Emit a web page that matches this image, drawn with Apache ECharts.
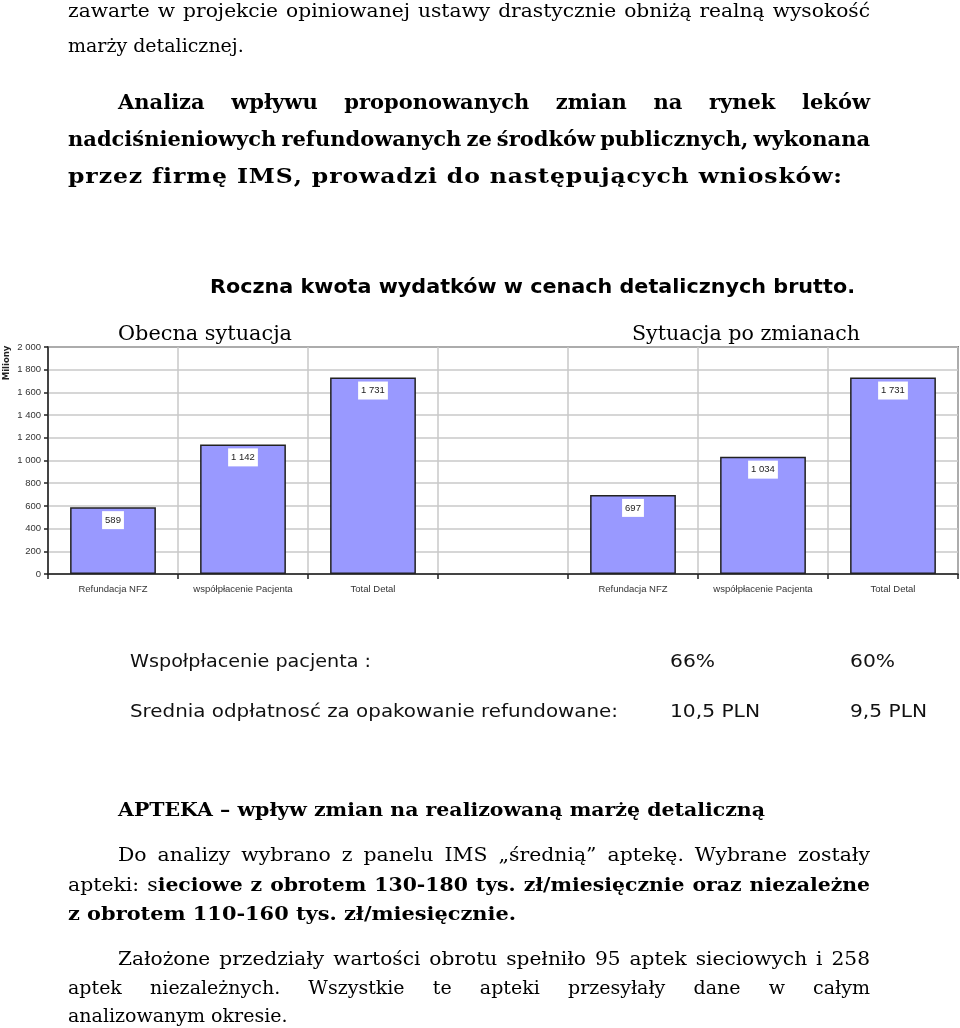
<!DOCTYPE html>
<html>
<head>
<meta charset="utf-8">
<script src="https://cdn.jsdelivr.net/npm/echarts@6/dist/echarts.min.js"></script>
<style>
html,body{margin:0;padding:0;background:#fff;}
#chart{width:960px;height:1028px;}
</style>
</head>
<body>
<div id="chart"></div>
<script>
// ---------- DATA ----------
const categories = ['Refundacja NFZ', 'współpłacenie Pacjenta', 'Total Detal', '', 'Refundacja NFZ', 'współpłacenie Pacjenta', 'Total Detal'];
const currentValues = [589, 1142, 1731];   // Obecna sytuacja
const afterValues = [697, 1034, 1731];     // Sytuacja po zmianach
const yTickLabels = ['0', '200', '400', '600', '800', '1 000', '1 200', '1 400', '1 600', '1 800', '2 000'];
const chartTitle = 'Roczna kwota wydatków w cenach detalicznych brutto.';
const groupTitles = ['Obecna sytuacja', 'Sytuacja po zmianach'];
const tableRows = [
  ['Wspołpłacenie pacjenta :', '66%', '60%'],
  ['Srednia odpłatnosć za opakowanie refundowane:', '10,5 PLN', '9,5 PLN']
];

// ---------- helpers ----------
const SERIF = 'DejaVu Serif';
const SANS = 'DejaVu Sans';
const mctx = document.createElement('canvas').getContext('2d');
function measure(t, size, family, weight) {
  mctx.font = (weight || 'normal') + ' ' + size + 'px "' + family + '"';
  return mctx.measureText(t).width;
}
function fmt(n) { return String(n).replace(/\B(?=(\d{3})+(?!\d))/g, ' '); }

const elements = [];
function textEl(t, x, y, size, family, weight, extra) {
  const el = Object.assign({
    type: 'text', x: x, y: y, silent: true,
    style: {
      text: t, fontSize: size, fontFamily: family, fontWeight: weight || 'normal',
      fill: '#000', textAlign: 'left', textVerticalAlign: 'middle', align: 'left', verticalAlign: 'middle'
    }
  }, extra || {});
  elements.push(el);
  return el;
}
// fit a single run into [x0,x1] by horizontal scaling
function fitText(t, x0, x1, y, size, family, weight, color) {
  const w = measure(t, size, family, weight);
  const el = textEl(t, x0, y, size, family, weight);
  if (color) el.style.fill = color;
  if (x1) el.scaleX = (x1 - x0) / w;
  return el;
}
// letter-spaced line spanning [x0,x1], glyphs scaled by sc
function spaced(t, x0, x1, y, size, family, weight, sc) {
  sc = sc || 1;
  const chars = Array.from(t);
  const total = chars.reduce((s, c) => s + measure(c, size, family, weight) * sc, 0);
  const extra = (x1 - x0 - total) / (chars.length - 1);
  let x = x0;
  chars.forEach(c => {
    if (c !== ' ') {
      const el = textEl(c, x, y, size, family, weight);
      if (sc !== 1) el.scaleX = sc;
    }
    x += measure(c, size, family, weight) * sc + extra;
  });
}
// words: array of words; each word = array of runs {t, b}
// gap: if given, words are scaled horizontally so that gaps equal `gap`; otherwise gaps stretch
function justify(words, x0, x1, y, size, family, gap) {
  const ww = words.map(w => w.reduce((s, r) => s + measure(r.t, size, family, r.b ? 'bold' : 'normal'), 0));
  const total = ww.reduce((a, b) => a + b, 0);
  let sc = 1, g;
  if (gap !== undefined) {
    sc = (x1 - x0 - gap * (words.length - 1)) / total;
    g = gap;
  } else {
    g = (x1 - x0 - total) / (words.length - 1);
  }
  let x = x0;
  words.forEach((w, i) => {
    let rx = x;
    w.forEach(r => {
      const wt = r.b ? 'bold' : 'normal';
      const el = textEl(r.t, rx, y, size, family, wt);
      if (sc !== 1) el.scaleX = sc;
      rx += measure(r.t, size, family, wt) * sc;
    });
    x += ww[i] * sc + g;
  });
}
function words(str, bold) { return str.split(' ').map(w => [{ t: w, b: !!bold }]); }

// ---------- body text ----------
justify(words('zawarte w projekcie opiniowanej ustawy drastycznie obniżą realną wysokość'), 68, 870, 12, 19, SERIF, 8);
textEl('marży detalicznej.', 68, 47, 19, SERIF);
justify(words('Analiza wpływu proponowanych zmian na rynek leków', true), 118, 870, 104, 21, SERIF);
justify(words('nadciśnieniowych refundowanych ze środków publicznych, wykonana', true), 68, 870, 141, 21, SERIF);
spaced('przez firmę IMS, prowadzi do następujących wniosków:', 68, 842, 178, 21, SERIF, 'bold', 1.12);

// chart title and group titles
fitText(chartTitle, 210, 855, 288, 19, SANS, 'bold');
fitText(groupTitles[0], 118, 292, 335, 20, SERIF);
fitText(groupTitles[1], 632, 860, 335, 20, SERIF);
elements.push({
  type: 'text', x: 7, y: 363, rotation: Math.PI / 2, silent: true,
  style: { text: 'Miliony', fontSize: 8.5, fontFamily: SANS, fontWeight: 'bold', fill: '#222',
    textAlign: 'center', align: 'center', textVerticalAlign: 'middle', verticalAlign: 'middle' }
});

// table below chart
const tableX = [130, 670, 850];
const tableY = [663, 713];
const tableRight = [[371, 715, 895], [618, 760, 927]];
tableRows.forEach((row, ri) => {
  row.forEach((cell, ci) => fitText(cell, tableX[ci], tableRight[ri][ci], tableY[ri], 17, SANS, 'normal', '#111'));
});

// bottom text
fitText('APTEKA – wpływ zmian na realizowaną marżę detaliczną', 118, 765, 811, 19, SERIF, 'bold');
justify(words('Do analizy wybrano z panelu IMS „średnią” aptekę. Wybrane zostały'), 118, 870, 856, 19, SERIF, 11);
justify([[{ t: 'apteki:', b: false }], [{ t: 's', b: false }, { t: 'ieciowe', b: true }]]
  .concat(words('z obrotem 130-180 tys. zł/miesięcznie oraz niezależne', true)), 68, 870, 886, 19, SERIF, 8);
fitText('z obrotem 110-160 tys. zł/miesięcznie.', 68, 516, 915, 19, SERIF, 'bold');
justify(words('Założone przedziały wartości obrotu spełniło 95 aptek sieciowych i 258'), 118, 870, 960, 19, SERIF, 9);
justify(words('aptek niezależnych. Wszystkie te apteki przesyłały dane w całym'), 68, 870, 989, 19, SERIF);
textEl('analizowanym okresie.', 68, 1017, 19, SERIF);

// ---------- chart ----------
const barData = currentValues.concat(['-'], afterValues);

const chart = echarts.init(document.getElementById('chart'), null, { renderer: 'canvas' });
chart.setOption({
  backgroundColor: '#fff',
  animation: false,
  grid: { left: 48, right: 2, top: 347, bottom: 454, show: true, borderColor: '#222', borderWidth: 1.5, backgroundColor: 'transparent' },
  xAxis: {
    type: 'category', data: categories, boundaryGap: true,
    axisLine: { lineStyle: { color: '#222', width: 1.5 } },
    axisTick: { show: true, interval: 0, length: 5, lineStyle: { color: '#222', width: 1.5 } },
    axisLabel: { interval: 0, fontSize: 9.5, fontFamily: 'Liberation Sans', color: '#333', margin: 10 },
    splitLine: { show: true, interval: 0, lineStyle: { color: '#c8c8c8', width: 1.5 } }
  },
  yAxis: {
    type: 'value', min: 0, max: 2000, interval: 200,
    axisLine: { show: true, lineStyle: { color: '#222', width: 1.5 } },
    axisTick: { show: true, length: 4, lineStyle: { color: '#222', width: 1.5 } },
    axisLabel: { fontSize: 9.5, fontFamily: 'Liberation Sans', color: '#333', margin: 7,
      formatter: (v, i) => yTickLabels[i] !== undefined ? yTickLabels[i] : fmt(v) },
    splitLine: { show: true, lineStyle: { color: '#c8c8c8', width: 1.5 } }
  },
  series: [{
    type: 'bar', data: barData, barCategoryGap: '34%',
    itemStyle: { color: '#9999ff', borderColor: '#222', borderWidth: 1.5 },
    label: {
      show: true, position: 'insideTop', distance: 4,
      backgroundColor: '#fff', padding: [4, 3, 4, 3],
      fontSize: 9.5, fontFamily: 'Liberation Sans', color: '#222',
      formatter: p => fmt(p.value)
    }
  }],
  graphic: { elements: elements }
});
</script>
</body>
</html>
